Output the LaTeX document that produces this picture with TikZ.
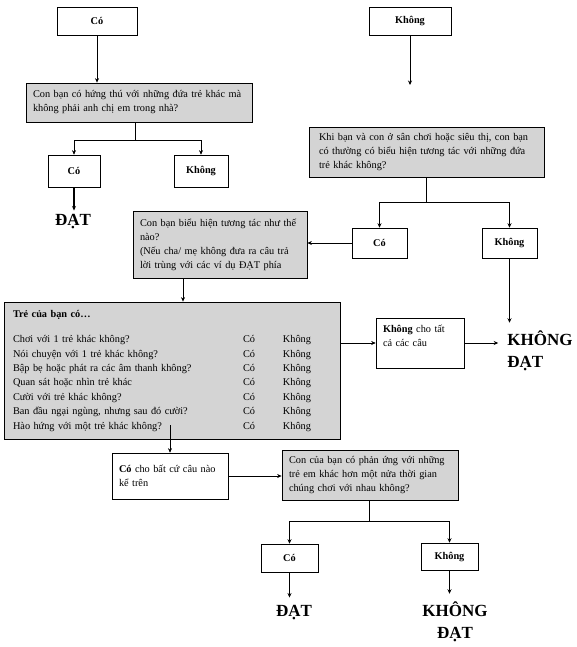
\documentclass[tikz,border=0pt]{standalone}
\usepackage{fontspec}
\setmainfont{Liberation Serif}
\usepackage{xcolor}
\usetikzlibrary{arrows.meta, positioning}
\definecolor{qgray}{RGB}{212,212,212}
\newcommand{\boxfont}{\fontsize{10.3}{14}\selectfont}
\renewcommand{\arraystretch}{1.2}

\begin{document}
\begin{tikzpicture}[
    x=1pt, y=-1pt,
    qbox/.style={rectangle, draw, line width=0.8pt, fill=qgray, align=left, inner xsep=7pt, inner ysep=0pt, font=\boxfont},
    abox/.style={rectangle, draw, line width=0.6pt, fill=white, align=center, inner sep=0pt, font=\boxfont\bfseries},
    tbox/.style={rectangle, draw, line width=0.6pt, fill=white, align=left, inner xsep=7pt, inner ysep=0pt, font=\boxfont},
    result/.style={align=center, inner sep=0pt, font=\fontsize{17}{22}\selectfont\bfseries},
    link/.style={-{Stealth[length=4.5pt, width=4pt]}, line width=0.6pt}
]
\useasboundingbox (0,0) rectangle (576,647);

% first question (left)
\node[abox, minimum width=80pt, minimum height=28pt] (coTop) at (97,21) {Có};
\node[qbox, text width=212pt, minimum height=39pt] (q1) at (139,102.5) {Con bạn có hứng thú với những đứa trẻ khác mà\\ không phải anh chị em trong nhà?};
\node[abox, minimum width=52pt, minimum height=32pt] (co2) at (74,171) {Có};
\node[abox, minimum width=54pt, minimum height=32pt] (khong2) at (201,171) {Không};
\node[result] (dat1) at (73,222) {ĐẠT};
\coordinate (q1Split) at (135,140);

% second question (right)
\node[abox, minimum width=82pt, minimum height=28pt] (khongTop) at (410,21) {Không};
\coordinate (khongEnd) at (410,85);
\node[qbox, inner xsep=10pt, text width=215pt, minimum height=50pt] (q2) at (426.5,152) {Khi bạn và con ở sân chơi hoặc siêu thị, con bạn\\ có thường có biểu hiện tương tác với những đứa\\ trẻ khác không?};
\node[abox, minimum width=55pt, minimum height=30pt] (co3) at (379.5,243) {Có};
\node[abox, minimum width=55pt, minimum height=30pt] (khong3) at (509.5,243) {Không};
\node[result, align=left] (khongDat1) at (540,351) {KHÔNG\\ĐẠT};
\coordinate (q2Split) at (426,202);

% how the child interacts
\node[qbox, text width=160pt, minimum height=67pt] (q3) at (220,244.5) {Con bạn biểu hiện tương tác như thế\\ nào?\\ (Nếu cha/ mẹ không đưa ra câu trả\\ lời trùng với các ví dụ ĐẠT phía};
\node[qbox, inner xsep=9pt, text width=318pt, minimum height=137pt, font=\fontsize{10.3}{12}\selectfont] (q4) at (172,370.5) {%
\begin{tabular}{@{}p{230pt}@{}p{40pt}@{}l@{}}
\multicolumn{3}{@{}l}{\textbf{Trẻ của bạn có…}}\\[10.6pt]
Chơi với 1 trẻ khác không? & Có & Không\\
Nói chuyện với 1 trẻ khác không? & Có & Không\\
Bập bẹ hoặc phát ra các âm thanh không? & Có & Không\\
Quan sát hoặc nhìn trẻ khác & Có & Không\\
Cười với trẻ khác không? & Có & Không\\
Ban đầu ngại ngùng, nhưng sau đó cười? & Có & Không\\
Hào hứng với một trẻ khác không? & Có & Không
\end{tabular}};
\node[tbox, text width=74pt, minimum height=50pt] (allNo) at (420,343) {\textbf{Không} cho tất\\ cả các câu\\ \mbox{}};
\node[tbox, text width=102pt, minimum height=46pt] (co4) at (170,476) {\textbf{Có} cho bất cứ câu nào\\ kể trên};

% last question
\node[qbox, text width=162pt, minimum height=50pt] (q5) at (370,475) {Con của bạn có phản ứng với những\\ trẻ em khác hơn một nửa thời gian\\ chúng chơi với nhau không?};
\node[abox, minimum width=57pt, minimum height=28pt] (co5) at (289.5,558) {Có};
\node[abox, minimum width=57pt, minimum height=27pt] (khong5) at (449.5,556.5) {Không};
\node[result] (dat2) at (294,613) {ĐẠT};
\node[result] (khongDat2) at (455,622) {KHÔNG\\ĐẠT};
\coordinate (q5Split) at (369,521);

% connectors
\draw[link] (coTop) -- (coTop.south |- q1.north);
\draw[line width=0.6pt] (q1.south -| q1Split) -- (q1Split);
\draw[link] (q1Split) -| (co2);
\draw[link] (q1Split) -| (khong2);
\draw[link, line width=1.2pt, shorten >=4pt] (co2) -- (co2.south |- dat1.north);

\draw[link] (khongTop) -- (khongEnd);
\draw[line width=0.6pt] (q2.south -| q2Split) -- (q2Split);
\draw[link] (q2Split) -| (co3);
\draw[link] (q2Split) -| (khong3);
\draw[link] (co3.west) -- (co3.west -| q3.east);
\draw[link, shorten >=8pt] (khong3) -- (khong3.south |- khongDat1.north);

\draw[link] ([xshift=-37pt]q3.south) -- ([xshift=-37pt]q3.south |- q4.north);
\draw[link] (allNo.west -| q4.east) -- (allNo.west);
\draw[link, shorten >=9pt] (allNo.east) -- (allNo.east -| khongDat1.west);
\draw[link] (co4.north |- q4.south) ++(0,-14) -- (co4.north);
\draw[link] (co4.east) -- (co4.east -| q5.west);

\draw[line width=0.6pt] (q5.south -| q5Split) -- (q5Split);
\draw[link] (q5Split) -| (co5);
\draw[link] (q5Split) -| (khong5);
\draw[link, shorten >=8pt] (co5) -- (co5.south |- dat2.north);
\draw[link, shorten >=8pt] (khong5) -- (khong5.south |- khongDat2.north);
\end{tikzpicture}
\end{document}
